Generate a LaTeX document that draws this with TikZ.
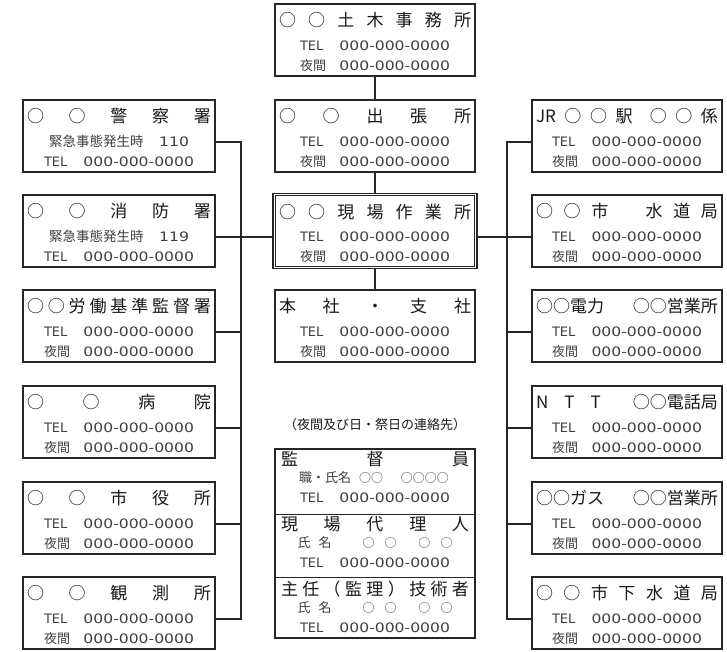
\documentclass[tikz,border=0pt]{standalone}
\usepackage{fontspec}
\setmainfont{Noto Sans CJK JP}
\newfontfamily\numf{DejaVu Sans}
\usetikzlibrary{calc}
\newcommand\tfs{\fontsize{17}{17}\selectfont}
\newcommand\sfs{\fontsize{13}{13}\selectfont}
\newcommand\numtxt[1]{\scalebox{1.2}[1]{\numf\fontsize{13}{13}\selectfont #1}}
\newcommand\telline[1]{\hbox to 150pt{\numf\sfs TEL\hfill\numtxt{#1}}}
\newcommand\yaline[1]{\hbox to 150pt{\sfs 夜間\hfill\numtxt{#1}}}
\newcommand\emline[1]{\hbox to 140pt{\fontsize{13.5}{13.5}\selectfont 緊急事態発生時\hfill\numtxt{#1}}}
\tikzset{
  boxst/.style={draw=black!85, line width=1.2pt, rectangle, inner sep=0pt, minimum height=72pt},
  txt/.style={inner sep=0pt, text=black!90},
  sub/.style={text=black!75},
  conn/.style={draw=black!85, line width=1.2pt}
}
\newcommand\mybox[7]{%
  \node[boxst, minimum width=#4pt] (#1) at ({#2+#4/2},{#3+36}) {};
  \node[txt] (#1t) at ([yshift=-17pt]#1.north) {\tfs\hbox to \dimexpr #4pt-8pt\relax{#5}};
  \node[txt,sub] (#1a) at ([yshift=-42pt]#1.north) {#6};
  \node[txt,sub] (#1b) at ([yshift=-62pt]#1.north) {#7};
}
\begin{document}
\begin{tikzpicture}[x=1pt,y=-1pt]
\fill[white] (0,0) rectangle (727,651);
\useasboundingbox (0,0) rectangle (727,651);

% centre column
\mybox{T}{275}{4}{200}{○\hfill ○\hfill 土\hfill 木\hfill 事\hfill 務\hfill 所}{\telline{000-000-0000}}{\yaline{000-000-0000}}
\mybox{S}{275}{100}{200}{○\hfill ○\hfill 出\hfill 張\hfill 所}{\telline{000-000-0000}}{\yaline{000-000-0000}}
\node[boxst, line width=1.6pt, minimum width=204pt, minimum height=75pt] (G) at (375,231) {};
\draw[black!85, line width=0.8pt] ([shift={(3pt,-3pt)}]G.north west) rectangle ([shift={(-3pt,3pt)}]G.south east);
\node[txt] (Gt) at ([yshift=-19pt]G.north) {\tfs\hbox to 192pt{○\hfill ○\hfill 現\hfill 場\hfill 作\hfill 業\hfill 所}};
\node[txt,sub] (Ga) at ([yshift=-44pt]G.north) {\telline{000-000-0000}};
\node[txt,sub] (Gb) at ([yshift=-64pt]G.north) {\yaline{000-000-0000}};
\mybox{H}{275}{290}{200}{本\hfill 社\hfill ・\hfill 支\hfill 社}{\telline{000-000-0000}}{\yaline{000-000-0000}}

% left column
\mybox{L1}{23}{100}{192}{○\hfill ○\hfill 警\hfill 察\hfill 署}{\emline{110}}{\telline{000-000-0000}}
\mybox{L2}{23}{195}{192}{○\hfill ○\hfill 消\hfill 防\hfill 署}{\emline{119}}{\telline{000-000-0000}}
\mybox{L3}{23}{290}{192}{○\hfill ○\hfill 労\hfill 働\hfill 基\hfill 準\hfill 監\hfill 督\hfill 署}{\telline{000-000-0000}}{\yaline{000-000-0000}}
\mybox{L4}{23}{386}{192}{○\hfill ○\hfill 病\hfill 院}{\telline{000-000-0000}}{\yaline{000-000-0000}}
\mybox{L5}{23}{482}{192}{○\hfill ○\hfill 市\hfill 役\hfill 所}{\telline{000-000-0000}}{\yaline{000-000-0000}}
\mybox{L6}{23}{577}{192}{○\hfill ○\hfill 観\hfill 測\hfill 所}{\telline{000-000-0000}}{\yaline{000-000-0000}}

% right column
\mybox{R1}{532}{100}{190}{JR\hfill ○\hfill ○\hfill 駅\hskip0pt plus 2fill ○\hfill ○\hfill 係}{\telline{000-000-0000}}{\yaline{000-000-0000}}
\mybox{R2}{532}{195}{190}{○\hfill ○\hfill 市\hskip0pt plus 3.5fill 水\hfill 道\hfill 局}{\telline{000-000-0000}}{\yaline{000-000-0000}}
\mybox{R3}{532}{290}{190}{○○電力\hfill ○○営業所}{\telline{000-000-0000}}{\yaline{000-000-0000}}
\mybox{R4}{532}{386}{190}{N\hfill T\hfill T\hskip0pt plus 2fill ○○電話局}{\telline{000-000-0000}}{\yaline{000-000-0000}}
\mybox{R5}{532}{482}{190}{○○ガス\hfill ○○営業所}{\telline{000-000-0000}}{\yaline{000-000-0000}}
\mybox{R6}{532}{577}{190}{○\hfill ○\hfill 市\hfill 下\hfill 水\hfill 道\hfill 局}{\telline{000-000-0000}}{\yaline{000-000-0000}}

% caption and bottom box
\node[txt] (cap) at (375,425) {\fontsize{13}{13}\selectfont （夜間及び日・祭日の連絡先）};
\node[boxst, minimum width=200pt, minimum height=189pt] (B) at (375,543.5) {};
\draw[conn] ([yshift=-66pt]B.north west) -- ([yshift=-66pt]B.north east);
\draw[conn] ([yshift=-129pt]B.north west) -- ([yshift=-129pt]B.north east);
\node[txt] (B1t) at ([yshift=-11pt]B.north) {\tfs\hbox to 188pt{監\hfill 督\hfill 員}};
\node[txt,sub] (B1a) at ([yshift=-29pt]B.north) {\hbox to 152pt{\sfs 職・氏名\hskip8pt {\fontsize{12}{12}\selectfont ○○\hskip18pt ○○○○}\hfill}};
\node[txt,sub] (B1b) at ([yshift=-49pt]B.north) {\telline{000-000-0000}};
\node[txt] (B2t) at ([yshift=-76pt]B.north) {\tfs\hbox to 188pt{現\hfill 場\hfill 代\hfill 理\hfill 人}};
\node[txt,sub] (B2a) at ([yshift=-94pt]B.north) {\hbox to 155pt{\sfs 氏\hskip8pt 名\hfill {\fontsize{12}{12}\selectfont ○\hskip10pt ○\hskip22pt ○\hskip10pt ○}}};
\node[txt,sub] (B2b) at ([yshift=-114pt]B.north) {\telline{000-000-0000}};
\node[txt] (B3t) at ([yshift=-141pt]B.north) {\tfs\hbox to 188pt{主\hfill 任\hfill （\hfill 監\hfill 理\hfill ）\hfill 技\hfill 術\hfill 者}};
\node[txt,sub] (B3a) at ([yshift=-159pt]B.north) {\hbox to 155pt{\sfs 氏\hskip8pt 名\hfill {\fontsize{12}{12}\selectfont ○\hskip10pt ○\hskip22pt ○\hskip10pt ○}}};
\node[txt,sub] (B3b) at ([yshift=-179pt]B.north) {\telline{000-000-0000}};

% connector coordinates
\foreach \i/\yy in {1/142,2/237,3/332,4/428,5/524,6/619} {
  \coordinate (LC\i) at (241,\yy);
  \coordinate (RC\i) at (507,\yy);
}
% centre vertical
\draw[conn] (T.south) -- (S.north);
\draw[conn] (S.south) -- (G.north);
\draw[conn] (G.south) -- (H.north);
% left trunk
\draw[conn] (L1.east |- LC1) -- (LC1) -- (LC6) -- (L6.east |- LC6);
\foreach \i in {2,3,4,5} { \draw[conn] (L\i.east |- LC\i) -- (LC\i); }
\draw[conn] (LC2) -- (G.west |- LC2);
% right trunk
\draw[conn] (R1.west |- RC1) -- (RC1) -- (RC6) -- (R6.west |- RC6);
\foreach \i in {2,3,4,5} { \draw[conn] (R\i.west |- RC\i) -- (RC\i); }
\draw[conn] (RC2) -- (G.east |- RC2);
\end{tikzpicture}
\end{document}
